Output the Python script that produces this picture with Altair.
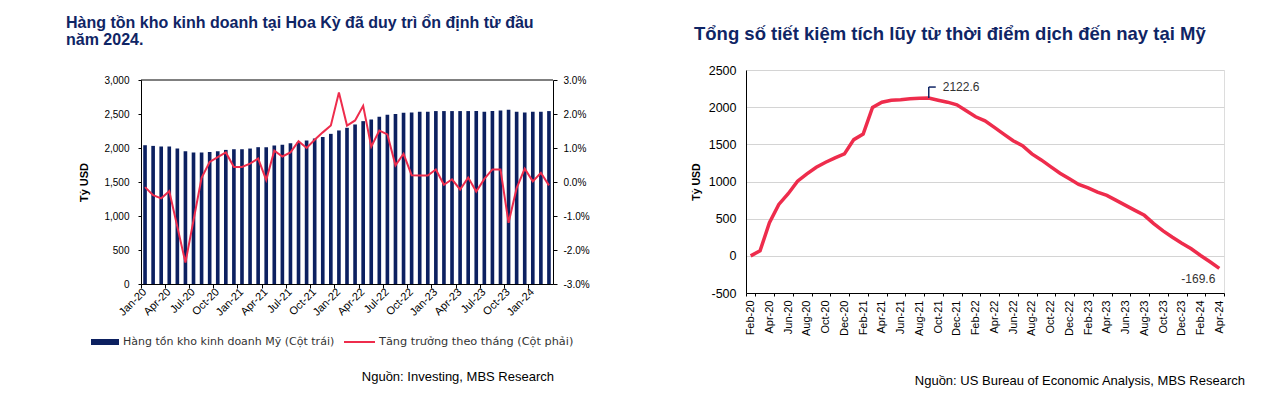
import altair as alt
import pandas as pd

FONT = "Liberation Sans"
NAVY = "#0c2060"
TITLE_NAVY = "#0f2565"
RED = "#ee2c4c"
GREY = "#333333"

# ---------------- Left chart data ----------------
inv_months = [
    "Jan-20", "Feb-20", "Mar-20", "Apr-20", "May-20", "Jun-20", "Jul-20", "Aug-20", "Sep-20", "Oct-20", "Nov-20", "Dec-20",
    "Jan-21", "Feb-21", "Mar-21", "Apr-21", "May-21", "Jun-21", "Jul-21", "Aug-21", "Sep-21", "Oct-21", "Nov-21", "Dec-21",
    "Jan-22", "Feb-22", "Mar-22", "Apr-22", "May-22", "Jun-22", "Jul-22", "Aug-22", "Sep-22", "Oct-22", "Nov-22", "Dec-22",
    "Jan-23", "Feb-23", "Mar-23", "Apr-23", "May-23", "Jun-23", "Jul-23", "Aug-23", "Sep-23", "Oct-23", "Nov-23", "Dec-23",
    "Jan-24", "Feb-24", "Mar-24",
]
inventory = [
    2041, 2031, 2022, 2022, 1992, 1953, 1933, 1933, 1943, 1953, 1972, 1982,
    1982, 1992, 2012, 2012, 2036, 2046, 2071, 2090, 2110, 2140, 2160, 2208,
    2258, 2297, 2346, 2395, 2420, 2459, 2489, 2499, 2518, 2523, 2533, 2533,
    2543, 2543, 2543, 2543, 2543, 2543, 2533, 2543, 2553, 2563, 2533, 2523,
    2533, 2533, 2543,
]
mom_growth_pct = [
    -0.15, -0.39, -0.48, -0.27, -1.32, -2.37, -1.13, 0.12, 0.59, 0.73, 0.87, 0.44,
    0.44, 0.54, 0.69, 0.06, 0.92, 0.75, 0.87, 1.20, 1.00, 1.24, 1.46, 1.66,
    2.63, 1.66, 1.81, 2.24, 1.04, 1.51, 1.40, 0.49, 0.83, 0.20, 0.19, 0.19,
    0.37, -0.08, 0.08, -0.22, 0.13, -0.28, 0.09, 0.37, 0.37, -1.20, -0.18, 0.39,
    0.02, 0.27, -0.10,
]
inv_tick_labels = ["Jan-20", "Apr-20", "Jul-20", "Oct-20", "Jan-21", "Apr-21", "Jul-21", "Oct-21",
                   "Jan-22", "Apr-22", "Jul-22", "Oct-22", "Jan-23", "Apr-23", "Jul-23", "Oct-23", "Jan-24"]
left_ticks = [0, 500, 1000, 1500, 2000, 2500, 3000]
right_ticks = [-0.03, -0.02, -0.01, 0.0, 0.01, 0.02, 0.03]

left_title = "Hàng tồn kho kinh doanh tại Hoa Kỳ đã duy trì ổn định từ đầu\nnăm 2024."
legend_bar_label = "Hàng tồn kho kinh doanh Mỹ (Cột trái)"
legend_line_label = "Tăng trưởng theo tháng (Cột phải)"
left_source = "Nguồn: Investing, MBS Research"

# ---------------- Right chart data ----------------
sav_months = [
    "Feb-20", "Mar-20", "Apr-20", "May-20", "Jun-20", "Jul-20", "Aug-20", "Sep-20", "Oct-20", "Nov-20", "Dec-20",
    "Jan-21", "Feb-21", "Mar-21", "Apr-21", "May-21", "Jun-21", "Jul-21", "Aug-21", "Sep-21", "Oct-21", "Nov-21", "Dec-21",
    "Jan-22", "Feb-22", "Mar-22", "Apr-22", "May-22", "Jun-22", "Jul-22", "Aug-22", "Sep-22", "Oct-22", "Nov-22", "Dec-22",
    "Jan-23", "Feb-23", "Mar-23", "Apr-23", "May-23", "Jun-23", "Jul-23", "Aug-23", "Sep-23", "Oct-23", "Nov-23", "Dec-23",
    "Jan-24", "Feb-24", "Mar-24", "Apr-24",
]
savings = [
    0, 67, 446, 692, 835, 1004, 1103, 1192, 1259, 1317, 1371,
    1563, 1638, 1996, 2067, 2094, 2100, 2112, 2120, 2122.6, 2094, 2067, 2031,
    1951, 1871, 1817, 1728, 1638, 1549, 1482, 1371, 1290, 1201, 1112, 1036,
    960, 915, 857, 812, 746, 679, 612, 545, 433, 335, 250, 170,
    95, 5, -80, -169.6,
]
sav_tick_labels = sav_months[::2]
sav_y_ticks = [-500, 0, 500, 1000, 1500, 2000, 2500]
right_title = "Tổng số tiết kiệm tích lũy từ thời điểm dịch đến nay tại Mỹ"
right_source = "Nguồn: US Bureau of Economic Analysis, MBS Research"
peak_month, peak_value, peak_label = "Sep-21", 2122.6, "2122.6"
last_month, last_value, last_label = "Apr-24", -169.6, "-169.6"

one = pd.DataFrame({"k": [0]})

# ---------------- Left chart ----------------
# panel is 214 high; the plot frame starts 10px below the panel top
LW, LH, LTOP = 412, 214, 10
inv_df = pd.DataFrame({"month": inv_months, "inventory": inventory,
                       "growth": [g / 100 for g in mom_growth_pct]})

x_inv = alt.X("month:O", sort=inv_months,
              scale=alt.Scale(paddingInner=0.55, paddingOuter=0.275),
              axis=alt.Axis(values=inv_tick_labels, labelAngle=-45, labelAlign="right",
                            labelBaseline="middle", bandPosition=-0.611, tickSize=4,
                            labelPadding=2, labelFontSize=11, title=None,
                            domainColor="#000", tickColor="#000"),
              title=None)

bars = alt.Chart(inv_df).mark_bar(color=NAVY).encode(
    x=x_inv,
    y=alt.Y("inventory:Q", scale=alt.Scale(domain=[0, 3000], nice=False, range=[LH, LTOP]),
            axis=alt.Axis(values=left_ticks, title="Tỷ USD", grid=False, labelOverlap=False,
                          labelExpr="format(datum.value, ',')",
                          tickSize=3, labelPadding=9, titlePadding=14,
                          domainColor="#000", tickColor="#000")),
)
line = alt.Chart(inv_df).mark_line(color=RED, strokeWidth=2).encode(
    x=x_inv,
    y=alt.Y("growth:Q", scale=alt.Scale(domain=[-0.03, 0.03], nice=False, range=[LH, LTOP]),
            axis=alt.Axis(orient="right", values=right_ticks, title=None, grid=False, labelOverlap=False,
                          tickSize=4, labelPadding=6,
                          labelExpr="replace(format(datum.value, '.1%'), '\u2212', '-')",
                          domainColor="#000", tickColor="#000")),
)

top_frame = alt.Chart(one).mark_rule(color="#000", strokeWidth=1).encode(
    x=alt.value(0), x2=alt.value(LW), y=alt.value(LTOP))

left_title_mark = alt.Chart(one).mark_text(
    align="left", baseline="top", fontSize=16, fontWeight="bold", font=FONT,
    color=TITLE_NAVY, lineBreak="\n", lineHeight=17,
).encode(x=alt.value(-75), y=alt.value(-55), text=alt.value(left_title))

leg_rect = alt.Chart(one).mark_rect(color=NAVY).encode(
    x=alt.value(-50), x2=alt.value(-22), y=alt.value(269), y2=alt.value(275))
leg_t1 = alt.Chart(one).mark_text(align="left", baseline="middle", fontSize=11, font="DejaVu Sans",
                                  color=GREY).encode(
    x=alt.value(-18), y=alt.value(272), text=alt.value(legend_bar_label))
leg_rule = alt.Chart(one).mark_rule(color=RED, strokeWidth=2).encode(
    x=alt.value(203), x2=alt.value(234), y=alt.value(272))
leg_t2 = alt.Chart(one).mark_text(align="left", baseline="middle", fontSize=11.3, font="DejaVu Sans",
                                  color=GREY).encode(
    x=alt.value(238), y=alt.value(272), text=alt.value(legend_line_label))
left_src = alt.Chart(one).mark_text(align="right", baseline="middle", fontSize=13, font=FONT, color="#000").encode(
    x=alt.value(413), y=alt.value(307), text=alt.value(left_source))

left = alt.layer(bars, line, top_frame, left_title_mark, leg_rect, leg_t1, leg_rule, leg_t2, left_src).resolve_scale(
    y="independent").properties(width=LW, height=LH, view=alt.ViewBackground(stroke="transparent"))

# ---------------- Right chart ----------------
RW, RH = 478, 223
sav_df = pd.DataFrame({"month": sav_months, "savings": savings})
peak_df = pd.DataFrame({"month": [peak_month], "savings": [peak_value], "t": [peak_label]})
last_df = pd.DataFrame({"month": [last_month], "savings": [last_value], "t": [last_label]})

x_sav = alt.X("month:O", sort=sav_months,
              scale=alt.Scale(paddingInner=0, paddingOuter=0),
              axis=alt.Axis(values=sav_tick_labels, labelAngle=-90, labelAlign="right",
                            labelBaseline="middle", tickBand="extent", tickSize=3,
                            labelPadding=4, labelFontSize=11, title=None,
                            domainColor="#000", tickColor="#000"),
              title=None)
y_sav = alt.Y("savings:Q", scale=alt.Scale(domain=[-500, 2500], nice=False),
              axis=alt.Axis(values=sav_y_ticks, title="Tỷ USD", grid=True, gridColor="#d4d4d4",
                            ticks=False, labelPadding=10, titlePadding=7, labelOverlap=False,
                            labelFontSize=12.5, titleFontSize=10.5,
                            labelExpr="replace(format(datum.value, 'd'), '\u2212', '-')",
                            domainColor="#000"))

sav_line = alt.Chart(sav_df).mark_line(color=RED, strokeWidth=3.5).encode(x=x_sav, y=y_sav)

peak_v = alt.Chart(peak_df).mark_rule(color=TITLE_NAVY, strokeWidth=1.5, y2Offset=-11).encode(
    x=x_sav, y=y_sav, y2=alt.Y2("savings"))
peak_h = alt.Chart(peak_df).mark_rule(color=TITLE_NAVY, strokeWidth=1.5, x2Offset=7, yOffset=-11, y2Offset=-11).encode(
    x=x_sav, x2=alt.X2("month"), y=y_sav, y2=alt.Y2("savings"))
peak_txt = alt.Chart(peak_df).mark_text(align="left", baseline="middle", dx=14, dy=-11, fontSize=12,
                                        font=FONT, color=GREY).encode(x=x_sav, y=y_sav, text="t:N")
last_txt = alt.Chart(last_df).mark_text(align="right", baseline="middle", dx=-4, dy=11, fontSize=12,
                                        font=FONT, color=GREY).encode(x=x_sav, y=y_sav, text="t:N")

right_title_mark = alt.Chart(one).mark_text(
    align="left", baseline="top", fontSize=18.5, fontWeight="bold", font=FONT, color=TITLE_NAVY,
).encode(x=alt.value(-52), y=alt.value(-45), text=alt.value(right_title))
right_src = alt.Chart(one).mark_text(align="right", baseline="middle", fontSize=13, font=FONT, color="#000").encode(
    x=alt.value(499), y=alt.value(311), text=alt.value(right_source))

right = alt.layer(sav_line, peak_v, peak_h, peak_txt, last_txt, right_title_mark, right_src).properties(
    width=RW, height=RH)

chart = alt.hconcat(left, right, spacing=100).properties(
    padding={"left": 57, "top": 6, "right": 0, "bottom": 0}
).configure_view(stroke="#222", strokeWidth=1).configure_axis(
    labelFont=FONT, titleFont=FONT, labelColor=GREY, labelFontSize=11,
    titleFontSize=12, titleFontWeight="bold", titleColor="#000",
).configure(background="white")

chart.save("out.html", embed_options={"renderer": "svg", "actions": False})
